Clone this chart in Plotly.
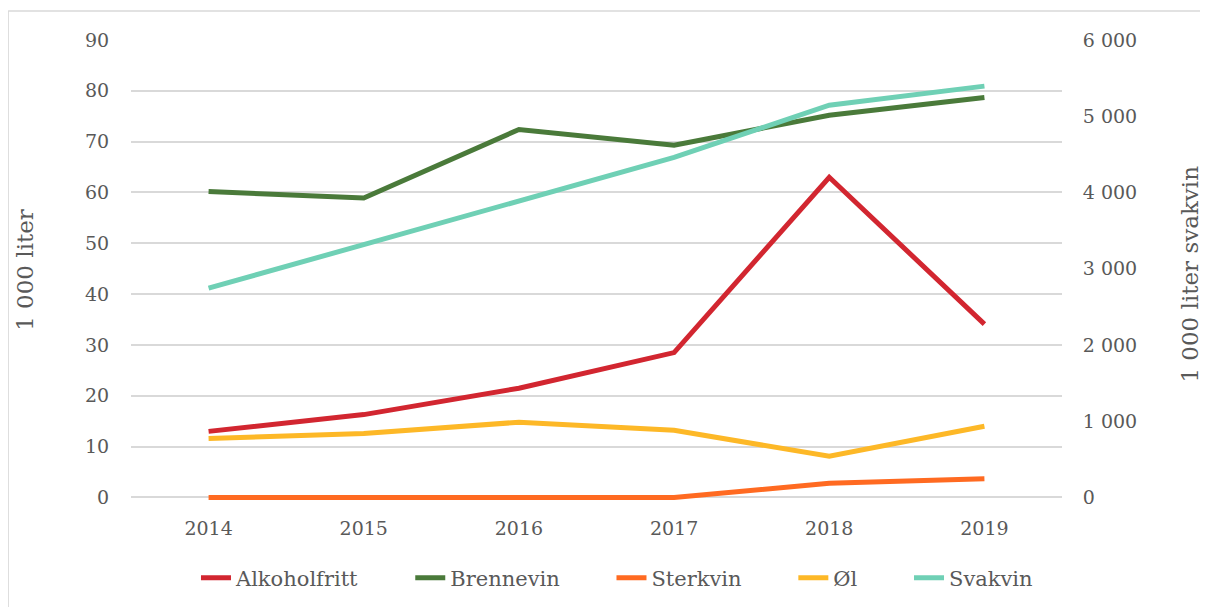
import plotly.graph_objects as go

# Data
years = ["2014", "2015", "2016", "2017", "2018", "2019"]
alkoholfritt = [13.0, 16.3, 21.5, 28.5, 63.0, 34.1]
brennevin = [60.2, 58.9, 72.4, 69.3, 75.2, 78.7]
sterkvin = [0.0, 0.0, 0.0, 0.0, 2.8, 3.7]
ol = [11.6, 12.6, 14.8, 13.2, 8.1, 14.0]
svakvin = [2745, 3320, 3885, 4460, 5145, 5395]  # right axis

FONT = "DejaVu Serif"
TEXT_COLOR = "#595959"
GRID = "#d9d9d9"
PAD = "\u00a0" * 7  # widens the gap between legend entries

series = [
    ("Alkoholfritt", alkoholfritt, "#d22630", "y"),
    ("Brennevin", brennevin, "#4a7a3a", "y"),
    ("Sterkvin", sterkvin, "#ff6a21", "y"),
    ("Øl", ol, "#fdb827", "y"),
    ("Svakvin", svakvin, "#6fd0b5", "y2"),
]

fig = go.Figure()
for i, (name, values, color, axis) in enumerate(series):
    label = name if i == len(series) - 1 else name + PAD
    fig.add_trace(go.Scatter(
        x=years, y=values, name=label, mode="lines", yaxis=axis,
        line=dict(color=color, width=5),
    ))

# axis titles as annotations so they sit where the reference has them
titles = [
    dict(text="1 000 liter", x=-0.114, y=0.5),
    dict(text="1 000 liter svakvin", x=1.1375, y=0.49),
]
annotations = [
    dict(text=t["text"], x=t["x"], y=t["y"], xref="paper", yref="paper",
         xanchor="center", yanchor="middle", textangle=-90, showarrow=False,
         font=dict(size=23, color=TEXT_COLOR, family=FONT))
    for t in titles
]

frame = dict(color="#d9d9d9", width=1.5)

# small room below zero so the Sterkvin line at 0 is not clipped
LEFT_RANGE = [-0.5, 90]
RIGHT_RANGE = [-0.5 * 6000 / 90, 6000]

fig.update_layout(
    width=1208, height=607,
    margin=dict(l=123, r=154, t=32, b=115),
    paper_bgcolor="white", plot_bgcolor="white",
    font=dict(family=FONT, size=19, color=TEXT_COLOR),
    separators=", ",
    showlegend=True,
    legend=dict(
        orientation="h", x=0.522, xanchor="center", y=-0.17, yanchor="middle",
        font=dict(size=21), traceorder="normal",
    ),
    xaxis=dict(
        type="category", range=[-0.5, 5.5], showgrid=False,
        showline=False, ticks="outside", ticklen=11, tickcolor="white",
    ),
    yaxis=dict(
        range=LEFT_RANGE, dtick=10, tick0=0, gridcolor=GRID, gridwidth=1.5,
        zeroline=False, showline=False, ticks="outside", ticklen=17,
        tickcolor="white",
    ),
    yaxis2=dict(
        overlaying="y", side="right", range=RIGHT_RANGE, dtick=1000, tick0=0,
        showgrid=False, zeroline=False, separatethousands=True,
        ticks="outside", ticklen=16, tickcolor="white",
    ),
    annotations=annotations,
    shapes=[
        dict(type="line", xref="paper", yref="paper", layer="below",
             x0=-0.132, x1=-0.132, y0=-0.5, y1=1.063, line=frame),
        dict(type="line", xref="paper", yref="paper", layer="below",
             x0=-0.132, x1=1.5, y0=1.063, y1=1.063, line=frame),
    ],
)

fig.write_html("out.html")
